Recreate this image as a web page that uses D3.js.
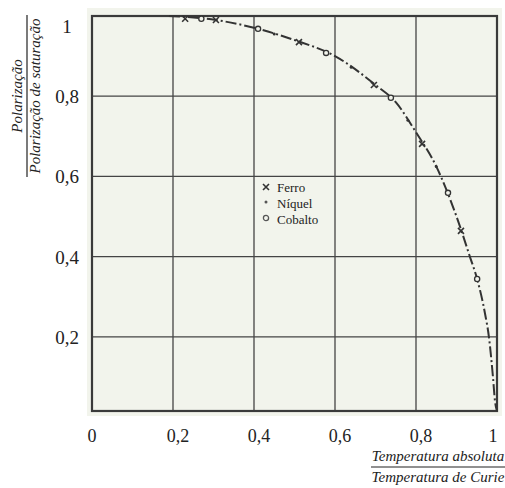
<!DOCTYPE html>
<html>
<head>
<meta charset="utf-8">
<script src="https://d3js.org/d3.v7.min.js"></script>
<style>
  body { margin: 0; background: #fff; }
  text { font-family: "Liberation Serif", "DejaVu Serif", serif; fill: #222; }
</style>
</head>
<body>
<div id="container"></div>
<script>
// tick values
var xTicks = [0, 0.2, 0.4, 0.6, 0.8, 1];
var yTicks = [0.2, 0.4, 0.6, 0.8, 1];
var gridValues = [0.2, 0.4, 0.6, 0.8];

// measured points (T/Tc, M/Ms)
var ferro = [[0.23, 0.993], [0.306, 0.99], [0.511, 0.935], [0.696, 0.828], [0.815, 0.681], [0.911, 0.464]];
var niquel = [[0.45, 0.955], [0.64, 0.872], [0.78, 0.74], [0.85, 0.625]];
var cobalto = [[0.27, 0.993], [0.41, 0.968], [0.578, 0.908], [0.738, 0.796], [0.879, 0.559], [0.951, 0.344]];

// curve
var curve = [[0.19, 1.0], [0.306, 0.99], [0.41, 0.968], [0.5, 0.94], [0.6, 0.9], [0.7, 0.828],
  [0.75, 0.785], [0.8, 0.71], [0.85, 0.625], [0.9, 0.5], [0.933, 0.4], [0.951, 0.344],
  [0.97, 0.26], [0.98, 0.2], [0.99, 0.1], [0.995, 0.04], [1.0, 0.015]];

var legendNames = ["Ferro", "Níquel", "Cobalto"];

var W = 505, H = 488;
var frameBottom = 0.015; // scan frame sits a little above zero
var paper = "#f2f4ec";

var svg = d3.select("#container").append("svg")
  .attr("width", W).attr("height", H);

var x = d3.scaleLinear().domain([0, 1]).range([92, 497]);
var y = d3.scaleLinear().domain([0, 1]).range([417, 16]);

// paper background of the scan
svg.append("rect")
  .attr("x", x(0) - 5).attr("y", y(1) - 8)
  .attr("width", x(1) - x(0) + 10).attr("height", y(frameBottom) - y(1) + 13)
  .attr("fill", paper);

// grid
svg.selectAll(".vgrid").data(gridValues).enter().append("line")
  .attr("x1", d => x(d)).attr("x2", d => x(d))
  .attr("y1", y(1)).attr("y2", y(frameBottom))
  .attr("stroke", "#444").attr("stroke-width", 1.3);
svg.selectAll(".hgrid").data(gridValues).enter().append("line")
  .attr("x1", x(0)).attr("x2", x(1))
  .attr("y1", d => y(d)).attr("y2", d => y(d))
  .attr("stroke", "#444").attr("stroke-width", 1.3);

// frame
svg.append("rect")
  .attr("x", x(0)).attr("y", y(1))
  .attr("width", x(1) - x(0)).attr("height", y(frameBottom) - y(1))
  .attr("fill", "none").attr("stroke", "#3a3a3a").attr("stroke-width", 2.2);

// curve
var line = d3.line().x(d => x(d[0])).y(d => y(d[1])).curve(d3.curveMonotoneX);
svg.append("path").datum(curve)
  .attr("d", line)
  .attr("fill", "none").attr("stroke", "#333").attr("stroke-width", 2)
  .attr("stroke-dasharray", "11,3,2,3");

// markers
function cross(g, cx, cy, r) {
  g.append("path")
    .attr("d", "M" + (cx - r) + "," + (cy - r) + "L" + (cx + r) + "," + (cy + r) +
      "M" + (cx - r) + "," + (cy + r) + "L" + (cx + r) + "," + (cy - r))
    .attr("stroke", "#333").attr("stroke-width", 1.6);
}
var marks = svg.append("g");
ferro.forEach(d => cross(marks, x(d[0]), y(d[1]), 3));
niquel.forEach(d => marks.append("circle").attr("cx", x(d[0])).attr("cy", y(d[1]))
  .attr("r", 1.5).attr("fill", "#333"));
cobalto.forEach(d => marks.append("circle").attr("cx", x(d[0])).attr("cy", y(d[1]))
  .attr("r", 2.6).attr("fill", paper).attr("stroke", "#333").attr("stroke-width", 1.3));

// legend
var lg = svg.append("g").attr("transform", "translate(266,0)");
cross(lg, 0, 187, 3);
lg.append("circle").attr("cx", 0).attr("cy", 202).attr("r", 1.5).attr("fill", "#555");
lg.append("circle").attr("cx", 0).attr("cy", 218).attr("r", 2.6)
  .attr("fill", paper).attr("stroke", "#555").attr("stroke-width", 1.3);
lg.selectAll("text").data(legendNames).enter().append("text")
  .attr("x", 11).attr("y", (d, i) => 192 + i * 16)
  .style("font-size", "13px").text(d => d);

// tick labels
var fmt = d => String(d).replace(".", ",");
svg.selectAll(".xt").data(xTicks).enter().append("text")
  .attr("x", d => x(d) + (d === 0 ? 0 : d === 1 ? -4 : 5)).attr("y", 442)
  .attr("text-anchor", "middle").style("font-size", "18px").text(fmt);
svg.selectAll(".yt").data(yTicks).enter().append("text")
  .attr("x", 67).attr("y", d => y(d) + (d === 1 ? 17 : 7))
  .attr("text-anchor", "middle").style("font-size", "19px").text(fmt);

// axis titles as fractions
var yt = svg.append("g").attr("transform", "translate(27,96) rotate(-90)");
yt.append("text").attr("y", -5).attr("text-anchor", "middle")
  .style("font-size", "15px").style("font-style", "italic").text("Polarização");
yt.append("line").attr("x1", -81).attr("x2", 81).attr("stroke", "#222").attr("stroke-width", 1.2);
yt.append("text").attr("y", 13).attr("text-anchor", "middle")
  .style("font-size", "15px").style("font-style", "italic").text("Polarização de saturação");

var xt = svg.append("g").attr("transform", "translate(438,467)");
xt.append("text").attr("y", -6).attr("text-anchor", "middle")
  .style("font-size", "15px").style("font-style", "italic").text("Temperatura absoluta");
xt.append("line").attr("x1", -67).attr("x2", 67).attr("stroke", "#222").attr("stroke-width", 1.2);
xt.append("text").attr("y", 15).attr("text-anchor", "middle")
  .style("font-size", "15px").style("font-style", "italic").text("Temperatura de Curie");
</script>
</body>
</html>
